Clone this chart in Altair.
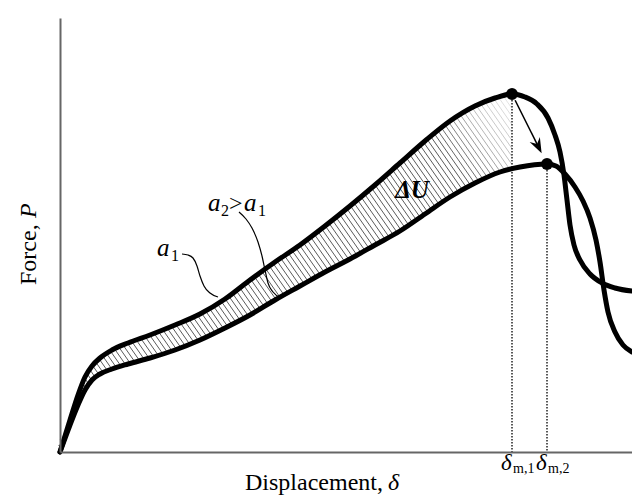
import numpy as np
import pandas as pd
import altair as alt

# Plot frame (displacement, force) in arbitrary schematic units
W, H = 572, 434

# Load-displacement curve for crack length a1 (higher peak)
disp_a1 = [0, 10, 18, 25, 32, 40, 52, 68, 90, 115, 140, 165, 190, 215, 240, 265, 290,
           315, 340, 365, 390, 415, 435, 452, 465, 477, 488, 495, 500, 504, 507, 510,
           514, 520, 530, 542, 555, 572]
force_a1 = [0, 32, 57, 75, 86, 94, 102, 109, 117, 127, 138, 153, 172, 190, 207, 226, 246,
            267, 289, 311, 331, 346, 354, 358, 355, 348, 334, 317, 300, 277, 252, 227,
            207, 192, 178, 169, 164, 161]

# Load-displacement curve for crack length a2 > a1 (lower peak)
disp_a2 = [0, 10, 18, 25, 32, 40, 52, 68, 90, 115, 140, 165, 190, 215, 240, 265, 290,
           315, 340, 365, 390, 415, 440, 460, 487, 496, 505, 515, 523, 530, 536, 540,
           544, 548, 555, 563, 572]
force_a2 = [0, 27, 47, 62, 72, 78, 83, 88, 94, 102, 112, 124, 137, 152, 166, 180, 193,
            207, 221, 238, 255, 269, 280, 285, 288, 286, 278, 265, 251, 234, 212, 190,
            162, 140, 120, 107, 100]

# Peak points (delta_m,1 and delta_m,2)
peak_disp = [452, 487]
peak_force = [358, 288]
peak_sub = ["m,1", "m,2"]

# Leader lines for the crack-length labels
lead_a1_d = [122, 128, 133, 137, 140, 144, 150, 158]
lead_a1_f = [198, 197, 194, 186, 176, 166, 159, 155]
lead_a2_d = [179, 186, 192, 198, 202, 205, 208, 213, 221]
lead_a2_f = [240, 233, 224, 210, 196, 182, 169, 160, 154]

SERIF = "Liberation Serif"

xs = alt.Scale(domain=[0, W], nice=False, zero=False)
ys = alt.Scale(domain=[0, H], nice=False, zero=False)
xax = alt.Axis(title=None, labels=False, ticks=False, grid=False,
               domainColor="#666666", domainWidth=2, zindex=1)
yax = alt.Axis(title=None, labels=False, ticks=False, grid=False,
               domainColor="#666666", domainWidth=2, zindex=1)


def X(f):
    return alt.X(f, type="quantitative", scale=xs, axis=xax)


def Y(f):
    return alt.Y(f, type="quantitative", scale=ys, axis=yax)


a1 = pd.DataFrame({"d": disp_a1, "f": force_a1, "curve": "a1", "i": range(len(disp_a1))})
a2 = pd.DataFrame({"d": disp_a2, "f": force_a2, "curve": "a2", "i": range(len(disp_a2))})
curves = pd.concat([a1, a2], ignore_index=True)

# Hatching of the energy difference between the rising branches, up to delta_m,1
slope = np.tan(np.radians(55))
d_end = peak_disp[0]
grid = np.linspace(0, d_end, 3000)
g_up = np.interp(grid, disp_a1, force_a1) + slope * grid
g_lo = np.interp(grid, disp_a2, force_a2) + slope * grid
rows = []
ext = 2.5
for c in np.arange(5.0, g_up[-1], 8.0):
    du = float(np.interp(c, g_up, grid))
    if c <= g_lo[-1]:
        dl = float(np.interp(c, g_lo, grid)) + ext
        dl = min(dl, d_end)
    else:
        dl = d_end
    du0 = du - ext
    if dl - du < 0.8:
        continue
    mid = 0.5 * (du + dl)
    op = float(np.clip((458 - mid) / 65.0, 0.0, 1.0))
    if op <= 0.02:
        continue
    rows.append({"d": du0, "f": c - slope * du0, "d2": dl, "f2": c - slope * dl, "op": op})
hatch_df = pd.DataFrame(rows)

hatch = alt.Chart(hatch_df).mark_rule(color="#5a5a5a", strokeWidth=1).encode(
    x=X("d"), y=Y("f"), x2="d2:Q", y2="f2:Q",
    opacity=alt.Opacity("op:Q", scale=None, legend=None),
)

# White masks keep the hatching strictly between the two curves
mask_top = alt.Chart(a1).mark_area(color="white", interpolate="monotone").encode(
    x=X("d"), y=Y("f"), y2=alt.datum(H)
)
mask_bot = alt.Chart(a2).mark_area(color="white", interpolate="monotone").encode(
    x=X("d"), y=Y("f"), y2=alt.datum(0)
)

peaks = pd.DataFrame({"d": peak_disp, "f": peak_force, "zero": [0, 0]})
dotted = alt.Chart(peaks).mark_rule(color="#222222", strokeWidth=1.5,
                                    strokeDash=[1.5, 1.5]).encode(
    x=X("d"), y=Y("f"), y2="zero:Q"
)

lines = alt.Chart(curves).mark_line(color="black", strokeWidth=5, interpolate="monotone",
                                    strokeCap="round", strokeJoin="round").encode(
    x=X("d"), y=Y("f"), detail="curve:N", order="i:Q"
)

dots = alt.Chart(peaks).mark_circle(color="black", size=140, opacity=1).encode(
    x=X("d"), y=Y("f")
)

# Arrow from the first peak to the second peak
vx = peak_disp[1] - peak_disp[0]
vy = peak_force[1] - peak_force[0]
ln = float(np.hypot(vx, vy))
ux, uy = vx / ln, vy / ln
start = (peak_disp[0] + 7 * ux, peak_force[0] + 7 * uy)
tip = (peak_disp[1] - 12 * ux, peak_force[1] - 12 * uy)
shaft_end = (tip[0] - 6 * ux, tip[1] - 6 * uy)
head_angle = 360 - float(np.degrees(np.arctan2(vx, -vy)))

shaft_df = pd.DataFrame({"d": [start[0]], "f": [start[1]],
                         "d2": [shaft_end[0]], "f2": [shaft_end[1]]})
shaft = alt.Chart(shaft_df).mark_rule(color="black", strokeWidth=1.5).encode(
    x=X("d"), y=Y("f"), x2="d2:Q", y2="f2:Q"
)
head_df = pd.DataFrame({"d": [tip[0]], "f": [tip[1]], "ang": [head_angle]})
head = alt.Chart(head_df).mark_point(
    shape="M0,0 L-0.5,-1.35 L0,-0.9 L0.5,-1.35 Z",
    filled=True, color="black", opacity=1, size=520, strokeWidth=0,
).encode(x=X("d"), y=Y("f"), angle=alt.Angle("ang:Q", scale=None))

lead_df = pd.concat([
    pd.DataFrame({"d": lead_a1_d, "f": lead_a1_f, "k": "a1", "i": range(len(lead_a1_d))}),
    pd.DataFrame({"d": lead_a2_d, "f": lead_a2_f, "k": "a2", "i": range(len(lead_a2_d))}),
], ignore_index=True)
leaders = alt.Chart(lead_df).mark_line(color="black", strokeWidth=1.2,
                                       interpolate="monotone").encode(
    x=X("d"), y=Y("f"), detail="k:N", order="i:Q"
)

# Text labels
italic_rows = [
    {"t": "a", "d": 97, "f": 196, "s": 25, "ang": 0},
    {"t": "a", "d": 148, "f": 241, "s": 25, "ang": 0},
    {"t": "a", "d": 184, "f": 241, "s": 25, "ang": 0},
    {"t": "δ", "d": 328, "f": -38, "s": 24, "ang": 0},
    {"t": "P", "d": -24, "f": 234, "s": 24, "ang": 270},
]
upright_rows = [
    {"t": "1", "d": 111, "f": 191, "s": 16, "ang": 0},
    {"t": "2", "d": 161, "f": 236, "s": 16, "ang": 0},
    {"t": ">", "d": 169, "f": 241, "s": 24, "ang": 0},
    {"t": "1", "d": 198, "f": 236, "s": 16, "ang": 0},
    {"t": "Displacement,", "d": 185, "f": -38, "s": 24, "ang": 0},
    {"t": "Force,", "d": -24, "f": 167, "s": 24, "ang": 270},
]
for pd_, sub in zip(peak_disp, peak_sub):
    italic_rows.append({"t": "δ", "d": pd_ - 11, "f": -18, "s": 23, "ang": 0})
    upright_rows.append({"t": sub, "d": pd_ + 1, "f": -21, "s": 14, "ang": 0})


def text_layer(rows, **kw):
    return alt.Chart(pd.DataFrame(rows)).mark_text(
        font=SERIF, align="left", baseline="alphabetic", color="black", **kw
    ).encode(
        x=X("d"), y=Y("f"), text="t:N",
        size=alt.Size("s:Q", scale=None, legend=None),
        angle=alt.Angle("ang:Q", scale=None),
    )


txt_italic = text_layer(italic_rows, fontStyle="italic")
txt_upright = text_layer(upright_rows)
delta_u = alt.Chart(pd.DataFrame({"t": ["ΔU"], "d": [352], "f": [262]})).mark_text(
    font=SERIF, fontStyle="italic", fontWeight="bold", fontSize=25,
    align="center", baseline="middle", color="black",
).encode(x=X("d"), y=Y("f"), text="t:N")

chart = alt.layer(
    hatch, mask_top, mask_bot, dotted, lines, dots, shaft, head, leaders,
    txt_italic, txt_upright, delta_u,
).properties(
    width=W, height=H,
    padding={"left": 60, "top": 18, "right": 0, "bottom": 45},
    autosize=alt.AutoSizeParams(type="none"),
    background="white",
).configure_view(stroke=None)

chart.save("out.html", embed_options={"renderer": "svg", "actions": False})
